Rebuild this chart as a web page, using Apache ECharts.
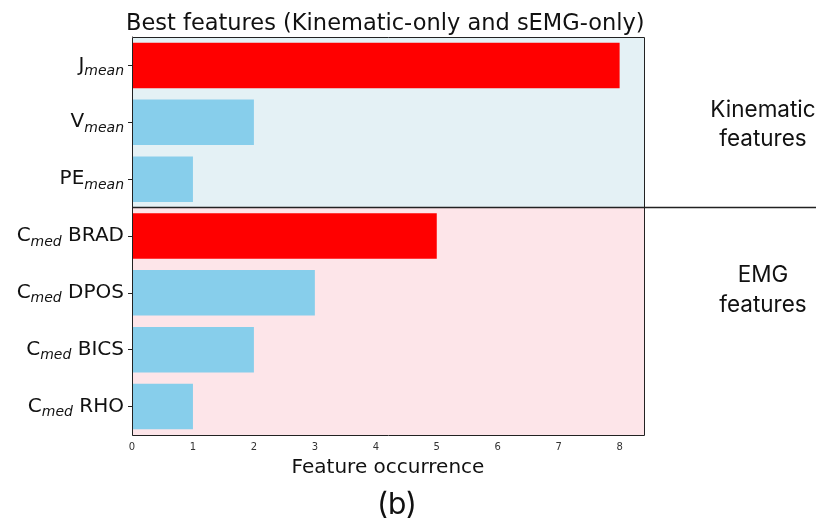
<!DOCTYPE html>
<html>
<head>
<meta charset="utf-8">
<script src="https://cdn.jsdelivr.net/npm/echarts@6/dist/echarts.min.js"></script>
<style>
  html, body { margin: 0; padding: 0; background: #fff; }
  #chart { width: 816px; height: 521px; }
</style>
</head>
<body>
<div id="chart"></div>
<script>
// Feature names: base symbol, subscript, and trailing muscle name
const featureBase = ['J', 'V', 'PE', 'C', 'C', 'C', 'C'];
const featureSub = ['mean', 'mean', 'mean', 'med', 'med', 'med', 'med'];
const featureSuffix = ['', '', '', ' BRAD', ' DPOS', ' BICS', ' RHO'];
// Which family each feature belongs to
const featureGroup = ['Kinematic', 'Kinematic', 'Kinematic', 'EMG', 'EMG', 'EMG', 'EMG'];
// How many times each feature was selected
const occurrences = [8, 2, 1, 5, 3, 2, 1];
// Labelled ticks on the occurrence axis
const xTicks = [0, 1, 2, 3, 4, 5, 6, 7, 8];
const xMax = 8.4;

const categories = featureBase.map((b, i) => b + '_' + featureSub[i] + featureSuffix[i]);

// The most frequent feature of each family is highlighted
const groupBest = {};
featureGroup.forEach((g, i) => {
  if (!(g in groupBest) || occurrences[i] > occurrences[groupBest[g]]) groupBest[g] = i;
});
const barColor = i => (groupBest[featureGroup[i]] === i ? '#ff0000' : '#87ceeb');

// Family spans on the hidden continuous axis (index -0.5 .. n-0.5)
const groupSpans = [];
featureGroup.forEach((g, i) => {
  const last = groupSpans[groupSpans.length - 1];
  if (last && last.name === g) last.end = i + 0.5;
  else groupSpans.push({ name: g, start: i - 0.5, end: i + 0.5 });
});
const spanFill = { Kinematic: '#e4f1f5', EMG: '#fde5e9' };

const chart = echarts.init(document.getElementById('chart'), null, { renderer: 'canvas' });

const tickFont = 'DejaVu Sans';

chart.setOption({
  animation: false,
  backgroundColor: '#ffffff',
  title: {
    text: 'Best features (Kinematic-only and sEMG-only)',
    left: 121,
    top: 8,
    textStyle: { fontFamily: tickFont, fontSize: 22.5, fontWeight: 'normal', color: '#111' }
  },
  grid: {
    left: 132, top: 37, width: 512, height: 398,
    containLabel: false
  },
  xAxis: [{
    type: 'value', min: 0, max: xMax,
    splitLine: { show: false },
    axisLine: { show: true, lineStyle: { color: '#222', width: 1 } },
    axisTick: { show: true, length: 4, lineStyle: { color: '#222' }, customValues: xTicks },
    axisLabel: { fontFamily: tickFont, fontSize: 10, color: '#333', margin: 7, customValues: xTicks },
    name: 'Feature occurrence',
    nameLocation: 'middle',
    nameGap: 23,
    nameTextStyle: { fontFamily: tickFont, fontSize: 20, color: '#111' }
  }],
  yAxis: [{
    type: 'category',
    data: categories,
    inverse: true,
    axisLine: { show: true, lineStyle: { color: '#222', width: 1 } },
    axisTick: { show: true, alignWithLabel: true, length: 4, lineStyle: { color: '#222' } },
    axisLabel: {
      margin: 8,
      formatter: (v, idx) => '{m|' + featureBase[idx] + '}{s|' + featureSub[idx] + '}' +
        (featureSuffix[idx] ? '{m|' + featureSuffix[idx] + '}' : ''),
      rich: {
        m: { fontFamily: tickFont, fontSize: 20, color: '#111', lineHeight: 26 },
        s: { fontFamily: tickFont, fontSize: 14, fontStyle: 'italic', color: '#111', lineHeight: 26, verticalAlign: 'bottom' }
      }
    }
  }, {
    type: 'value', min: -0.5, max: categories.length - 0.5, inverse: true, show: false
  }],
  series: [{
    type: 'scatter',
    yAxisIndex: 1,
    data: [],
    silent: true,
    z: 0,
    markArea: {
      silent: true,
      data: groupSpans.map(s => [
        { yAxis: s.start, itemStyle: { color: spanFill[s.name], opacity: 1 } },
        { yAxis: s.end }
      ])
    }
  }, {
    type: 'bar',
    yAxisIndex: 0,
    barCategoryGap: '20%',
    z: 3,
    data: occurrences.map((v, i) => ({ value: v, itemStyle: { color: barColor(i) } }))
  }]
});

// Plot frame, divider between the families (running past the plot to the
// page edge), family captions and the panel letter
const x0 = chart.convertToPixel({ xAxisIndex: 0 }, 0);
const x1 = chart.convertToPixel({ xAxisIndex: 0 }, xMax);
const yTop = chart.convertToPixel({ yAxisIndex: 1 }, -0.5);
const yBot = chart.convertToPixel({ yAxisIndex: 1 }, categories.length - 0.5);
const divY = chart.convertToPixel({ yAxisIndex: 1 }, groupSpans[0].end);
const pageRight = chart.getWidth();
const capFont = 'Inter';
chart.setOption({
  graphic: [
    {
      type: 'rect', z: 10, silent: true,
      shape: { x: Math.round(x0) + 0.5, y: Math.round(yTop) + 0.5, width: Math.round(x1 - x0), height: Math.round(yBot - yTop) },
      style: { fill: null, stroke: '#222', lineWidth: 1 }
    },
    {
      type: 'line', z: 10, silent: true,
      shape: { x1: x0, y1: divY, x2: pageRight, y2: divY },
      style: { stroke: '#222', lineWidth: 1.5 }
    },
    {
      type: 'text', z: 10, x: 763, y: 125,
      style: { text: 'Kinematic\nfeatures', fontFamily: capFont, fontSize: 22.5, lineHeight: 29,
               fill: '#111', align: 'center', verticalAlign: 'middle' }
    },
    {
      type: 'text', z: 10, x: 763, y: 290,
      style: { text: 'EMG\nfeatures', fontFamily: capFont, fontSize: 22.5, lineHeight: 30,
               fill: '#111', align: 'center', verticalAlign: 'middle' }
    },
    {
      type: 'text', z: 10, x: 397, y: 505,
      style: { text: '(b)', fontFamily: capFont, fontSize: 30, fill: '#111',
               align: 'center', verticalAlign: 'middle' }
    }
  ]
});
</script>
</body>
</html>
